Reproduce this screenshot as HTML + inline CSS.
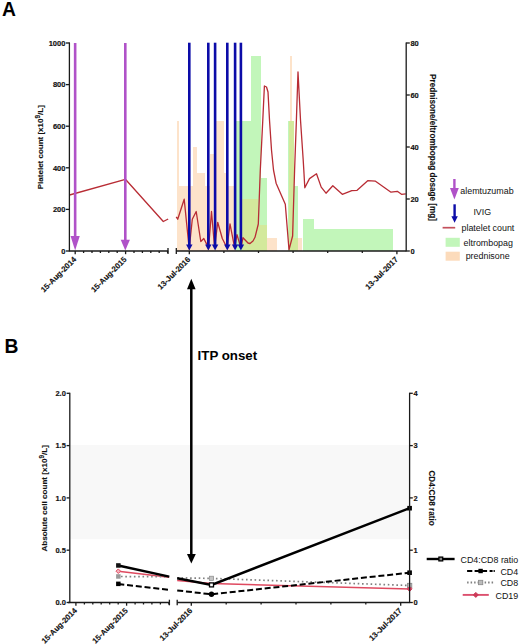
<!DOCTYPE html>
<html><head><meta charset="utf-8"><style>
html,body{margin:0;padding:0;background:#fff;}
body{width:520px;height:644px;overflow:hidden;}
svg{display:block;}
</style></head><body>
<svg width="520" height="644" viewBox="0 0 520 644">
<rect width="520" height="644" fill="#fff"/>
<g shape-rendering="crispEdges">
<rect x="177.3" y="121.0" width="2.0" height="130.0" fill="#fde3ca"/>
<rect x="179.3" y="186.0" width="13.2" height="65.0" fill="#fde3ca"/>
<rect x="192.5" y="147.0" width="4.3" height="104.0" fill="#fde3ca"/>
<rect x="196.8" y="173.0" width="8.2" height="78.0" fill="#fde3ca"/>
<rect x="205.0" y="186.0" width="4.6" height="65.0" fill="#fde3ca"/>
<rect x="209.6" y="153.5" width="6.8" height="97.5" fill="#fde3ca"/>
<rect x="216.4" y="121.0" width="8.0" height="130.0" fill="#fde3ca"/>
<rect x="224.4" y="173.0" width="3.1" height="78.0" fill="#fde3ca"/>
<rect x="227.5" y="186.0" width="8.0" height="65.0" fill="#fde3ca"/>
<rect x="241.9" y="199.0" width="15.6" height="52.0" fill="#fde3ca"/>
<rect x="257.5" y="225.0" width="9.3" height="26.0" fill="#fde3ca"/>
<rect x="266.8" y="238.0" width="10.2" height="13.0" fill="#fde3ca"/>
<rect x="288.6" y="121.0" width="0.9" height="130.0" fill="#fde3ca"/>
<rect x="289.5" y="56.0" width="2.5" height="195.0" fill="#fde3ca"/>
<rect x="292.0" y="121.0" width="2.4" height="130.0" fill="#fde3ca"/>
<rect x="294.4" y="238.0" width="7.4" height="13.0" fill="#fde3ca"/>
<rect x="236.4" y="121.0" width="14.1" height="130.0" fill="#c2f6ba"/>
<rect x="250.5" y="56.0" width="10.0" height="195.0" fill="#c2f6ba"/>
<rect x="260.5" y="178.2" width="6.3" height="72.8" fill="#c2f6ba"/>
<rect x="288.4" y="121.0" width="6.0" height="130.0" fill="#c2f6ba"/>
<rect x="294.4" y="186.0" width="3.5" height="65.0" fill="#c2f6ba"/>
<rect x="302.5" y="218.5" width="11.3" height="32.5" fill="#c2f6ba"/>
<rect x="313.8" y="229.4" width="78.7" height="21.6" fill="#c2f6ba"/>
<rect x="241.9" y="199.0" width="8.6" height="52.0" fill="#d3e99c"/>
<rect x="250.5" y="199.0" width="7.0" height="52.0" fill="#d3e99c"/>
<rect x="257.5" y="225.0" width="3.0" height="26.0" fill="#d3e99c"/>
<rect x="260.5" y="225.0" width="6.3" height="26.0" fill="#d3e99c"/>
<rect x="288.6" y="121.0" width="0.9" height="130.0" fill="#d3e99c"/>
<rect x="289.5" y="121.0" width="2.5" height="130.0" fill="#d3e99c"/>
<rect x="292.0" y="121.0" width="2.4" height="130.0" fill="#d3e99c"/>
<rect x="294.4" y="238.0" width="3.5" height="13.0" fill="#d3e99c"/>
</g>
<polyline points="69.5,195 125.4,179.3 163.3,221.5 168.2,219" fill="none" stroke="#b82c34" stroke-width="1.3" stroke-linejoin="round"/>
<polyline points="176.2,216.9 177.7,219.2 184.2,199.2 189.2,249 192.3,219.2 196.2,211.5 200.8,241.5 203.8,238.5 206.9,244.6 208.5,249 211.5,211.5 214.6,247.7 217.7,222.3 222.3,238.5 227,247.7 230,223.8 234.6,247.7 237,234.6 240.8,247.7 243,237.7 248,243 250,243.5 253,241 255,237.3 258.3,224 260.3,170 262.8,120 264.4,86 266.5,87 268,92 269.5,120 271.5,150 273.5,170 276.1,183.2 285.3,204.3 289,249.8 292.6,236 294.6,170 296.4,120 298,72 300.5,120 303.2,160 303.8,170 304.8,187.8 309.5,178.6 316.5,173.8 321.2,187.1 326,193.2 332.8,185.8 342.3,194.3 351.8,190.7 357.1,190.3 367.7,180.7 375.5,181.2 391,192.2 397.3,191.3 401.5,194.3 405.8,193.8" fill="none" stroke="#b82c34" stroke-width="1.3" stroke-linejoin="round"/>
<line x1="75.15" y1="43" x2="75.15" y2="237.1" stroke="#b052c8" stroke-width="2.6"/>
<polygon points="70.55000000000001,236.1 79.75,236.1 75.15,250.6" fill="#b052c8"/>
<line x1="125.3" y1="43" x2="125.3" y2="240.8" stroke="#b052c8" stroke-width="2.6"/>
<polygon points="120.7,239.8 129.9,239.8 125.3,250.6" fill="#b052c8"/>
<line x1="189.3" y1="42.7" x2="189.3" y2="246" stroke="#0c0ca8" stroke-width="2.6"/>
<polygon points="186.10000000000002,244.5 192.5,244.5 189.3,250.6" fill="#0c0ca8"/>
<line x1="208.3" y1="42.7" x2="208.3" y2="246" stroke="#0c0ca8" stroke-width="2.6"/>
<polygon points="205.10000000000002,244.5 211.5,244.5 208.3,250.6" fill="#0c0ca8"/>
<line x1="215.1" y1="42.7" x2="215.1" y2="246" stroke="#0c0ca8" stroke-width="2.6"/>
<polygon points="211.9,244.5 218.29999999999998,244.5 215.1,250.6" fill="#0c0ca8"/>
<line x1="227.3" y1="42.7" x2="227.3" y2="246" stroke="#0c0ca8" stroke-width="2.6"/>
<polygon points="224.10000000000002,244.5 230.5,244.5 227.3,250.6" fill="#0c0ca8"/>
<line x1="235.1" y1="42.7" x2="235.1" y2="246" stroke="#0c0ca8" stroke-width="2.6"/>
<polygon points="231.9,244.5 238.29999999999998,244.5 235.1,250.6" fill="#0c0ca8"/>
<line x1="240.9" y1="42.7" x2="240.9" y2="246" stroke="#0c0ca8" stroke-width="2.6"/>
<polygon points="237.70000000000002,244.5 244.1,244.5 240.9,250.6" fill="#0c0ca8"/>
<g stroke="#1a1a1a" stroke-width="1.3" fill="none">
<line x1="69.4" y1="42.4" x2="69.4" y2="251.6"/>
<line x1="406.2" y1="42.4" x2="406.2" y2="251.6"/>
<line x1="69.4" y1="251.0" x2="168.2" y2="251.0"/>
<line x1="176.2" y1="251.0" x2="406.2" y2="251.0"/>
<line x1="168.0" y1="248.0" x2="168.0" y2="254.0"/>
<line x1="176.3" y1="248.0" x2="176.3" y2="254.0"/>
<line x1="65.80000000000001" y1="251.0" x2="69.4" y2="251.0"/>
<line x1="65.80000000000001" y1="209.4" x2="69.4" y2="209.4"/>
<line x1="65.80000000000001" y1="167.8" x2="69.4" y2="167.8"/>
<line x1="65.80000000000001" y1="126.2" x2="69.4" y2="126.2"/>
<line x1="65.80000000000001" y1="84.6" x2="69.4" y2="84.6"/>
<line x1="65.80000000000001" y1="43.0" x2="69.4" y2="43.0"/>
<line x1="406.2" y1="251.0" x2="409.8" y2="251.0"/>
<line x1="406.2" y1="199.0" x2="409.8" y2="199.0"/>
<line x1="406.2" y1="147.0" x2="409.8" y2="147.0"/>
<line x1="406.2" y1="95.0" x2="409.8" y2="95.0"/>
<line x1="406.2" y1="43.0" x2="409.8" y2="43.0"/>
<line x1="75.2" y1="251.0" x2="75.2" y2="254.2"/>
<line x1="83.6" y1="251.0" x2="83.6" y2="253.0"/>
<line x1="92.0" y1="251.0" x2="92.0" y2="253.0"/>
<line x1="100.4" y1="251.0" x2="100.4" y2="253.0"/>
<line x1="108.8" y1="251.0" x2="108.8" y2="253.0"/>
<line x1="117.2" y1="251.0" x2="117.2" y2="253.0"/>
<line x1="125.6" y1="251.0" x2="125.6" y2="254.2"/>
<line x1="134.0" y1="251.0" x2="134.0" y2="253.0"/>
<line x1="142.4" y1="251.0" x2="142.4" y2="253.0"/>
<line x1="150.8" y1="251.0" x2="150.8" y2="253.0"/>
<line x1="159.2" y1="251.0" x2="159.2" y2="253.0"/>
<line x1="167.6" y1="251.0" x2="167.6" y2="253.0"/>
<line x1="189.3" y1="251.0" x2="189.3" y2="254.2"/>
<line x1="223.9" y1="251.0" x2="223.9" y2="253.0"/>
<line x1="258.5" y1="251.0" x2="258.5" y2="253.0"/>
<line x1="293.1" y1="251.0" x2="293.1" y2="253.0"/>
<line x1="327.7" y1="251.0" x2="327.7" y2="253.0"/>
<line x1="362.3" y1="251.0" x2="362.3" y2="253.0"/>
<line x1="396.9" y1="251.0" x2="396.9" y2="254.2"/>
</g>
<g font-family="'Liberation Sans', sans-serif" font-weight="bold" font-size="7.5" fill="#111" stroke="#111" stroke-width="0.15">
<text x="65.4" y="253.7" text-anchor="end">0</text>
<text x="65.4" y="212.1" text-anchor="end">200</text>
<text x="65.4" y="170.5" text-anchor="end">400</text>
<text x="65.4" y="128.9" text-anchor="end">600</text>
<text x="65.4" y="87.3" text-anchor="end">800</text>
<text x="65.4" y="45.7" text-anchor="end">1000</text>
<text x="410.4" y="253.7">0</text>
<text x="410.4" y="201.7">20</text>
<text x="410.4" y="149.7">40</text>
<text x="410.4" y="97.7">60</text>
<text x="410.4" y="45.7">80</text>
</g>
<text x="0" y="0" transform="translate(76.8,260.0) rotate(-45)" text-anchor="end" font-family="'Liberation Sans', sans-serif" font-weight="bold" font-size="7.8" fill="#111" stroke="#111" stroke-width="0.15">15-Aug-2014</text>
<text x="0" y="0" transform="translate(127.1,260.0) rotate(-45)" text-anchor="end" font-family="'Liberation Sans', sans-serif" font-weight="bold" font-size="7.8" fill="#111" stroke="#111" stroke-width="0.15">15-Aug-2015</text>
<text x="0" y="0" transform="translate(190.9,260.0) rotate(-45)" text-anchor="end" font-family="'Liberation Sans', sans-serif" font-weight="bold" font-size="7.8" fill="#111" stroke="#111" stroke-width="0.15">13-Jul-2016</text>
<text x="0" y="0" transform="translate(398.5,260.0) rotate(-45)" text-anchor="end" font-family="'Liberation Sans', sans-serif" font-weight="bold" font-size="7.8" fill="#111" stroke="#111" stroke-width="0.15">13-Jul-2017</text>
<text transform="translate(42.9,147.2) rotate(-90)" text-anchor="middle" font-family="'Liberation Sans', sans-serif" font-weight="bold" font-size="8.0" fill="#111" stroke="#111" stroke-width="0.12">Platelet count [x10<tspan font-size="6.4" dy="-2.8">9</tspan><tspan dy="2.8">/L]</tspan></text>
<text transform="translate(430.3,147.5) rotate(90)" text-anchor="middle" font-family="'Liberation Sans', sans-serif" font-weight="bold" font-size="8.17" fill="#111" stroke="#111" stroke-width="0.12">Prednisone/eltrombopag dosage [mg]</text>
<line x1="454.4" y1="179" x2="454.4" y2="190" stroke="#b052c8" stroke-width="2.4"/>
<polygon points="450,188 458.8,188 454.4,199.4" fill="#b052c8"/>
<line x1="454.6" y1="204.3" x2="454.6" y2="217" stroke="#0c0ca8" stroke-width="2.4"/>
<polygon points="451.4,216.3 457.8,216.3 454.6,222.8" fill="#0c0ca8"/>
<line x1="442.6" y1="227.7" x2="455.2" y2="227.7" stroke="#c4505c" stroke-width="1.7"/>
<rect x="445.6" y="237.8" width="14.2" height="9" fill="#c2f6ba"/>
<rect x="445.6" y="251.7" width="14.2" height="9" fill="#fcdbbb"/>
<g font-family="'Liberation Sans', sans-serif" font-size="8.9" fill="#111">
<text x="460.3" y="193.7">alemtuzumab</text>
<text x="473.4" y="214.6">IVIG</text>
<text x="461.5" y="230.8">platelet count</text>
<text x="463.6" y="246">eltrombopag</text>
<text x="465.7" y="259.2">prednisone</text>
</g>
<text x="2.1" y="15.9" font-family="'Liberation Sans', sans-serif" font-weight="bold" font-size="19.3" fill="#000">A</text>
<text x="4.4" y="353.2" font-family="'Liberation Sans', sans-serif" font-weight="bold" font-size="19.3" fill="#000">B</text>
<rect x="70.5" y="444.9" width="338.4" height="94.3" fill="#f8f8f8"/>
<line x1="191.3" y1="286" x2="191.3" y2="556" stroke="#000" stroke-width="2.5"/>
<polygon points="187,289.2 195.6,289.2 191.3,278.7" fill="#000"/>
<polygon points="187,554 195.8,554 191.3,563.6" fill="#000"/>
<text x="197.6" y="360" font-family="'Liberation Sans', sans-serif" font-weight="bold" font-size="13.3" fill="#000">ITP onset</text>
<g fill="none" stroke-linecap="butt">
<polyline points="118.3,571.2 169.2,577.2" stroke="#df4a60" stroke-width="1.5"/>
<polyline points="177.2,580.6 211.5,583.6 409.6,588.9" stroke="#df4a60" stroke-width="1.5"/>
<polyline points="121,576.5 169.2,576.8" stroke="#808080" stroke-width="1.7" stroke-dasharray="1.6,2.7"/>
<polyline points="177.2,577.8 211.5,578.4 409.6,585.5" stroke="#808080" stroke-width="1.7" stroke-dasharray="1.6,2.7"/>
<polyline points="118.3,584 169.2,589.8" stroke="#000" stroke-width="2" stroke-dasharray="6,2.8"/>
<polyline points="177.2,590.4 211.5,594.3 409.6,572.7" stroke="#000" stroke-width="2" stroke-dasharray="6,2.8"/>
<polyline points="118.3,565.5 169.2,576.6" stroke="#000" stroke-width="2.5"/>
<polyline points="177.2,578.2 211.5,584.9 409.6,508.2" stroke="#000" stroke-width="2.5"/>
</g>
<rect x="116.1" y="563.2" width="4.5" height="4.5" fill="#111"/>
<polygon points="118.3,568.9000000000001 120.6,571.2 118.3,573.5 116.0,571.2" fill="#f4b0bc" stroke="#df4a60" stroke-width="1"/>
<rect x="116.1" y="574.2" width="4.5" height="4.5" fill="#999"/>
<rect x="116.1" y="581.6" width="4.5" height="4.5" fill="#000"/>
<rect x="209.4" y="576.2" width="4.2" height="4.2" fill="#c4c4c4" stroke="#8a8a8a" stroke-width="0.7"/>
<rect x="209.5" y="582.9" width="4.0" height="4.0" fill="#fff" stroke="#000" stroke-width="1.3"/>
<circle cx="211.5" cy="594.3" r="2.7" fill="#000"/>
<rect x="407.3" y="505.9" width="4.6" height="4.6" fill="#000"/>
<rect x="407.3" y="570.4" width="4.6" height="4.6" fill="#000"/>
<rect x="407.4" y="583.3" width="4.4" height="4.4" fill="#bbb" stroke="#888" stroke-width="0.8"/>
<polygon points="409.6,586.4 412.1,588.9 409.6,591.4 407.1,588.9" fill="#d84462" stroke="#d84462" stroke-width="1"/>
<g stroke="#1a1a1a" stroke-width="1.3" fill="none">
<line x1="69.8" y1="392.7" x2="69.8" y2="603.1"/>
<line x1="409.6" y1="392.7" x2="409.6" y2="603.1"/>
<line x1="68" y1="602.5" x2="169.4" y2="602.5"/>
<line x1="177.2" y1="602.5" x2="409.6" y2="602.5"/>
<line x1="169.4" y1="599.7" x2="169.4" y2="605.3"/>
<line x1="177.2" y1="599.7" x2="177.2" y2="605.3"/>
<line x1="66.6" y1="602.5" x2="69.8" y2="602.5"/>
<line x1="409.6" y1="602.5" x2="412.8" y2="602.5"/>
<line x1="66.6" y1="550.2" x2="69.8" y2="550.2"/>
<line x1="409.6" y1="550.2" x2="412.8" y2="550.2"/>
<line x1="66.6" y1="497.9" x2="69.8" y2="497.9"/>
<line x1="409.6" y1="497.9" x2="412.8" y2="497.9"/>
<line x1="66.6" y1="445.6" x2="69.8" y2="445.6"/>
<line x1="409.6" y1="445.6" x2="412.8" y2="445.6"/>
<line x1="66.6" y1="393.3" x2="69.8" y2="393.3"/>
<line x1="409.6" y1="393.3" x2="412.8" y2="393.3"/>
<line x1="75.9" y1="602.5" x2="75.9" y2="605.7"/>
<line x1="84.4" y1="602.5" x2="84.4" y2="604.5"/>
<line x1="92.8" y1="602.5" x2="92.8" y2="604.5"/>
<line x1="101.2" y1="602.5" x2="101.2" y2="604.5"/>
<line x1="109.7" y1="602.5" x2="109.7" y2="604.5"/>
<line x1="118.2" y1="602.5" x2="118.2" y2="604.5"/>
<line x1="126.6" y1="602.5" x2="126.6" y2="605.7"/>
<line x1="135.1" y1="602.5" x2="135.1" y2="604.5"/>
<line x1="143.5" y1="602.5" x2="143.5" y2="604.5"/>
<line x1="151.9" y1="602.5" x2="151.9" y2="604.5"/>
<line x1="160.4" y1="602.5" x2="160.4" y2="604.5"/>
<line x1="168.8" y1="602.5" x2="168.8" y2="604.5"/>
<line x1="191.3" y1="602.5" x2="191.3" y2="605.7"/>
<line x1="226.2" y1="602.5" x2="226.2" y2="604.5"/>
<line x1="261.1" y1="602.5" x2="261.1" y2="604.5"/>
<line x1="296.0" y1="602.5" x2="296.0" y2="604.5"/>
<line x1="330.9" y1="602.5" x2="330.9" y2="604.5"/>
<line x1="365.8" y1="602.5" x2="365.8" y2="604.5"/>
<line x1="400.7" y1="602.5" x2="400.7" y2="605.7"/>
</g>
<g font-family="'Liberation Sans', sans-serif" font-weight="bold" font-size="7.5" fill="#111" stroke="#111" stroke-width="0.15">
<text x="65.89999999999999" y="605.2" text-anchor="end">0.0</text>
<text x="65.89999999999999" y="552.9" text-anchor="end">0.5</text>
<text x="65.89999999999999" y="500.6" text-anchor="end">1.0</text>
<text x="65.89999999999999" y="448.3" text-anchor="end">1.5</text>
<text x="65.89999999999999" y="396.0" text-anchor="end">2.0</text>
<text x="413.6" y="605.2">0</text>
<text x="413.6" y="552.9">1</text>
<text x="413.6" y="500.6">2</text>
<text x="413.6" y="448.3">3</text>
<text x="413.6" y="396.0">4</text>
</g>
<text x="0" y="0" transform="translate(77.5,611.2) rotate(-45)" text-anchor="end" font-family="'Liberation Sans', sans-serif" font-weight="bold" font-size="7.8" fill="#111" stroke="#111" stroke-width="0.15">15-Aug-2014</text>
<text x="0" y="0" transform="translate(128.2,611.2) rotate(-45)" text-anchor="end" font-family="'Liberation Sans', sans-serif" font-weight="bold" font-size="7.8" fill="#111" stroke="#111" stroke-width="0.15">15-Aug-2015</text>
<text x="0" y="0" transform="translate(192.9,611.2) rotate(-45)" text-anchor="end" font-family="'Liberation Sans', sans-serif" font-weight="bold" font-size="7.8" fill="#111" stroke="#111" stroke-width="0.15">13-Jul-2016</text>
<text x="0" y="0" transform="translate(402.3,611.2) rotate(-45)" text-anchor="end" font-family="'Liberation Sans', sans-serif" font-weight="bold" font-size="7.8" fill="#111" stroke="#111" stroke-width="0.15">13-Jul-2017</text>
<text transform="translate(46.9,498.3) rotate(-90)" text-anchor="middle" font-family="'Liberation Sans', sans-serif" font-weight="bold" font-size="8.1" fill="#111" stroke="#111" stroke-width="0.12">Absolute cell count [x10<tspan font-size="6.5" dy="-2.8">9</tspan><tspan dy="2.8">/L]</tspan></text>
<text transform="translate(429.1,498.1) rotate(90)" text-anchor="middle" font-family="'Liberation Sans', sans-serif" font-weight="bold" font-size="8.17" fill="#111" stroke="#111" stroke-width="0.12">CD4:CD8 ratio</text>
<line x1="426.7" y1="559" x2="454.6" y2="559" stroke="#000" stroke-width="2.4"/>
<rect x="438.9" y="557.1" width="3.8" height="3.8" fill="#888" stroke="#000" stroke-width="1.3"/>
<path d="M467.1,571h5.2M474.6,571h12.5M489.6,571h3M493.6,571h1.2" stroke="#000" stroke-width="2"/>
<rect x="478.4" y="568.8" width="4.4" height="4.4" fill="#000"/>
<line x1="467.1" y1="582.5" x2="494.6" y2="582.5" stroke="#808080" stroke-width="1.8" stroke-dasharray="1.5,2"/>
<rect x="478.4" y="580.3" width="4.4" height="4.4" fill="#bbb" stroke="#888" stroke-width="0.8"/>
<line x1="462.7" y1="594.9" x2="488.8" y2="594.9" stroke="#dc506e" stroke-width="1.9"/>
<polygon points="475.8,592.4 478.3,594.9 475.8,597.4 473.3,594.9" fill="#cc3a58" stroke="#cc3a58" stroke-width="1"/>
<g font-family="'Liberation Sans', sans-serif" font-size="8.9" fill="#111" text-anchor="end">
<text x="518.2" y="562.6">CD4:CD8 ratio</text>
<text x="518.2" y="574.6">CD4</text>
<text x="518.2" y="586.1">CD8</text>
<text x="518.2" y="598.9">CD19</text>
</g>
</svg>
</body></html>
